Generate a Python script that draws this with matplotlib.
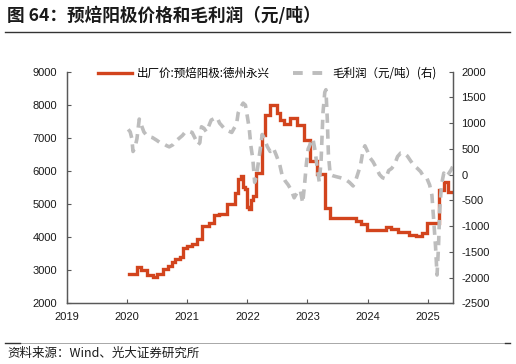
import numpy as np
import pandas as pd
import matplotlib
matplotlib.use('Agg')
import matplotlib.pyplot as plt
import matplotlib.dates as mdates
from matplotlib.lines import Line2D

plt.rcParams['font.family'] = ['Liberation Sans', 'Noto Sans CJK SC']
plt.rcParams['axes.unicode_minus'] = False

# ==========================================
# 1. 数据
# ==========================================
price_dates = ['2020-01-10', '2020-03-01', '2020-03-25', '2020-05-01', '2020-06-05', '2020-07-01',
               '2020-08-05', '2020-09-05', '2020-10-01', '2020-10-20', '2020-11-15', '2020-12-05',
               '2021-01-01', '2021-02-01', '2021-03-01', '2021-04-01', '2021-05-15', '2021-06-10',
               '2021-07-10', '2021-09-01', '2021-10-15', '2021-11-05', '2021-11-25', '2021-12-05',
               '2021-12-20', '2021-12-28', '2022-01-08', '2022-01-20', '2022-02-01', '2022-02-25',
               '2022-03-28', '2022-04-20', '2022-05-20', '2022-07-01', '2022-07-20', '2022-08-10',
               '2022-09-15', '2022-11-01', '2022-12-10', '2023-01-15', '2023-03-01', '2023-04-20',
               '2023-05-15', '2023-10-25', '2023-11-25', '2023-12-28', '2024-04-25', '2024-05-20',
               '2024-07-01', '2024-09-10', '2024-10-20', '2024-11-25', '2024-12-28', '2025-03-08',
               '2025-04-08', '2025-05-05', '2025-06-02']
price_values = [2900, 3100, 3000, 2850, 2800, 2900,
                3030, 3130, 3260, 3330, 3410, 3680,
                3730, 3790, 3950, 4350, 4440, 4660,
                4700, 5000, 5320, 5750, 5850, 5520,
                5450, 4900, 4850, 5120, 5240, 5930,
                7090, 7700, 8000, 7750, 7550, 7430,
                7600, 7400, 6950, 6300, 5900, 4870,
                4570, 4490, 4400, 4220, 4320, 4250,
                4170, 4060, 4040, 4130, 4440, 5410,
                5660, 5360, 5360]

profit_dates = ['2020-01-08', '2020-01-20', '2020-01-30', '2020-02-06', '2020-02-18', '2020-03-01',
                '2020-03-15', '2020-03-28', '2020-04-12', '2020-04-27', '2020-05-12', '2020-06-03',
                '2020-06-28', '2020-07-20', '2020-08-08', '2020-08-30', '2020-09-13', '2020-10-05',
                '2020-10-20', '2020-11-10', '2020-12-02', '2020-12-20', '2021-01-12', '2021-01-30',
                '2021-02-18', '2021-03-08', '2021-03-18', '2021-03-28', '2021-04-12', '2021-04-27',
                '2021-05-12', '2021-05-26', '2021-06-14', '2021-07-01', '2021-07-16', '2021-07-30',
                '2021-08-18', '2021-09-06', '2021-09-28', '2021-10-12', '2021-10-27', '2021-11-06',
                '2021-11-20', '2021-12-06', '2021-12-20', '2022-01-01', '2022-01-12', '2022-01-22',
                '2022-02-03', '2022-02-14', '2022-02-24', '2022-03-07', '2022-03-18', '2022-04-01',
                '2022-04-15', '2022-05-01', '2022-05-19', '2022-06-07', '2022-06-25', '2022-07-16',
                '2022-07-30', '2022-08-18', '2022-09-06', '2022-09-24', '2022-10-12', '2022-10-30',
                '2022-11-18', '2022-12-03', '2022-12-14', '2022-12-25', '2023-01-05', '2023-01-19',
                '2023-02-03', '2023-02-17', '2023-03-02', '2023-03-14', '2023-03-25', '2023-04-05',
                '2023-04-16', '2023-04-23', '2023-05-01', '2023-05-08', '2023-05-19', '2023-06-03',
                '2023-06-25', '2023-07-20', '2023-08-18', '2023-09-13', '2023-10-05', '2023-10-20',
                '2023-11-06', '2023-11-20', '2023-12-05', '2023-12-16', '2024-01-01', '2024-01-15',
                '2024-02-03', '2024-02-20', '2024-03-14', '2024-04-01', '2024-04-20', '2024-05-08',
                '2024-05-26', '2024-06-14', '2024-07-01', '2024-07-20', '2024-08-08', '2024-08-30',
                '2024-09-20', '2024-10-08', '2024-10-30', '2024-11-18', '2024-12-05', '2024-12-25',
                '2025-01-12', '2025-01-26', '2025-02-06', '2025-02-17', '2025-02-26', '2025-03-07',
                '2025-03-14', '2025-03-25', '2025-04-08', '2025-04-20', '2025-05-08', '2025-05-22',
                '2025-06-02']
profit_values = [880, 830, 700, 450, 520, 700,
                 1080, 960, 830, 770, 740, 720,
                 670, 620, 600, 560, 540, 580,
                 640, 700, 760, 830, 840, 820,
                 700, 580, 620, 930, 900, 830,
                 950, 1060, 1090, 1110, 1000, 950,
                 880, 850, 820, 900, 980, 1200,
                 1300, 1390, 1350, 1120, 900, 560,
                 300, -150, -50, 200, 450, 780,
                 700, 550, 450, 520, 380, 200,
                 0, -120, -200, -300, -450, -350,
                 -300, -550, -200, 200, 500, 600,
                 700, 450, 100, -150, 300, 1200,
                 1600, 1650, 1100, 400, 0, -20,
                 -40, -60, -90, -150, -220, -120,
                 50, 200, 480, 560, 450, 330,
                 250, 150, 0, -60, -80, 80,
                 120, 200, 350, 420, 420, 360,
                 260, 180, 120, 60, -30, -60,
                 -200, -400, -900, -1400, -1950, -1400,
                 -700, -200, 30, -40, 20, 90,
                 160]

year_ticks = [2019, 2020, 2021, 2022, 2023, 2024, 2025]
left_ticks = [2000, 3000, 4000, 5000, 6000, 7000, 8000, 9000]
right_ticks = [-2500, -2000, -1500, -1000, -500, 0, 500, 1000, 1500, 2000]

# ==========================================
# 2. 绘图
# ==========================================
red = '#D2441D'
grey = '#BDBDBD'
axis_col = '#595959'

fig = plt.figure(figsize=(5.16, 3.64), dpi=100)
ax1 = fig.add_axes([67 / 516, 1 - 303.3 / 364, (453 - 67) / 516, (303.3 - 71.7) / 364])
ax2 = ax1.twinx()

ax1.plot(pd.to_datetime(price_dates), price_values, color=red, linewidth=2.4,
         drawstyle='steps-post', solid_joinstyle='miter')
ax2.plot(pd.to_datetime(profit_dates), profit_values, color=grey, linewidth=2.6,
         dashes=(2.6, 1.8))

ax1.set_xlim(pd.Timestamp('2019-01-01'), pd.Timestamp('2025-06-03'))
ax1.set_ylim(2000, 9000)
ax2.set_ylim(-2500, 2000)
ax1.set_xticks([pd.Timestamp(f'{y}-01-01') for y in year_ticks])
ax1.xaxis.set_major_formatter(mdates.DateFormatter('%Y'))
ax1.set_yticks(left_ticks)
ax2.set_yticks(right_ticks)

for ax in (ax1, ax2):
    ax.spines['top'].set_visible(False)
    for s in ('left', 'right', 'bottom'):
        ax.spines[s].set_color(axis_col)
        ax.spines[s].set_linewidth(0.9)
    ax.tick_params(direction='in', length=3, width=0.8, color=axis_col, labelsize=8, labelcolor='#1a1a1a')
ax1.tick_params(axis='y', pad=7)
ax1.tick_params(axis='x', pad=6)
ax2.tick_params(axis='y', pad=6)

# 图例
handles = [Line2D([], [], color=red, linewidth=2.4),
           Line2D([], [], color=grey, linewidth=2.8, dashes=(2.5, 2.5))]
labels = ['出厂价:预焙阳极:德州永兴', '毛利润（元/吨）(右)']
fig.legend(handles, labels, loc='center', bbox_to_anchor=(267 / 516, 1 - 73.3 / 364), ncol=2,
           frameon=False, handlelength=3.0, handletextpad=0.4, columnspacing=2.0,
           borderpad=0, prop={'family': ['Noto Sans CJK SC'], 'size': 8.3})

# 标题、来源
fig.text(7 / 516, 1 - 15.5 / 364, '图 64：预焙阳极价格和毛利润（元/吨）', fontsize=12.7, fontweight='bold',
         family=['Noto Sans CJK SC'], va='center', ha='left', color='#1a1a1a')
fig.add_artist(Line2D([5 / 516, 510 / 516], [1 - 31.7 / 364] * 2, color='#333333', linewidth=1.0))
fig.add_artist(Line2D([5 / 516, 510 / 516], [1 - 342.7 / 364] * 2, color='#9a9a9a', linewidth=0.6))
fig.add_artist(Line2D([5 / 516, 20 / 516], [1 - 342.7 / 364] * 2, color='#333333', linewidth=1.0))
fig.add_artist(Line2D([505 / 516, 510 / 516], [1 - 342.7 / 364] * 2, color='#333333', linewidth=1.0))
fig.text(7 / 516, 1 - 353.5 / 364, '资料来源：Wind、光大证券研究所', fontsize=9,
         family=['Noto Sans CJK SC'], va='center', ha='left', color='#1a1a1a')

fig.savefig('out.png', dpi=100)
